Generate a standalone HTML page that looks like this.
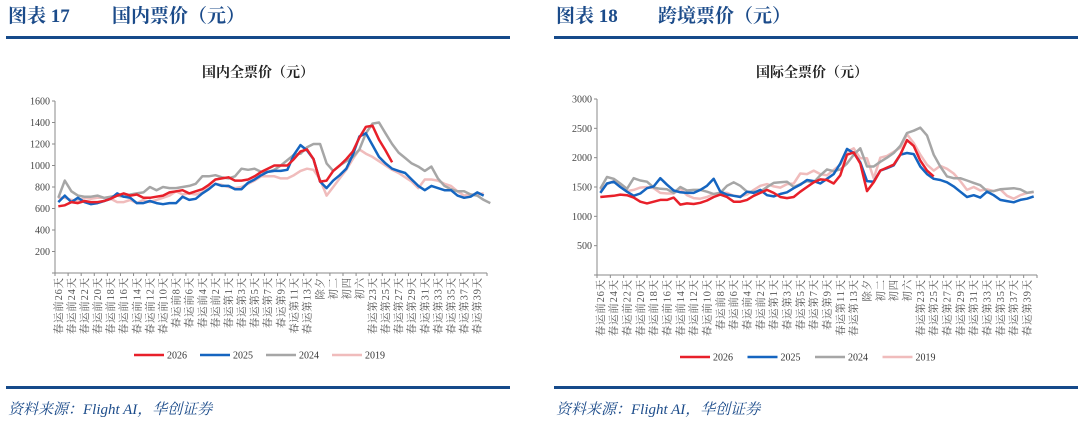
<!DOCTYPE html>
<html><head><meta charset="utf-8"><style>
html,body{margin:0;padding:0;background:#fff;width:1080px;height:421px;overflow:hidden}
svg{display:block}
.ttl{font-family:"Liberation Serif","Noto Serif CJK SC",serif;font-weight:bold;font-size:19px;fill:#1b4b8a}
.ct{font-family:"Liberation Serif","Noto Serif CJK SC",serif;font-weight:bold;font-size:14px;fill:#222}
.tk{font-family:"Liberation Serif","Noto Serif CJK SC",serif;font-size:10px;fill:#444}
.xl{font-family:"Liberation Serif","Noto Serif CJK SC",serif;font-size:10.5px;fill:#555;letter-spacing:0.8px}
.lg{font-family:"Liberation Serif",serif;font-size:10px;fill:#333}
.src{font-family:"Liberation Serif","Noto Serif CJK SC",serif;font-style:italic;font-size:15px;fill:#1b4b8a}
</style></head><body>
<svg id="root" width="1080" height="421" viewBox="0 0 1080 421">
<g>
<text class="ttl" x="8" y="22">图表 17</text>
<text class="ttl" x="112" y="22">国内票价（元）</text>
<rect x="6" y="36" width="504" height="3" fill="#164a8a"/>
<text class="ct" x="258" y="77" text-anchor="middle">国内全票价（元）</text>
</g>
<g>
<text class="ttl" x="556" y="22">图表 18</text>
<text class="ttl" x="658" y="22">跨境票价（元）</text>
<rect x="554" y="36" width="524" height="3" fill="#164a8a"/>
<text class="ct" x="812" y="77" text-anchor="middle">国际全票价（元）</text>
</g>
<rect x="6" y="386" width="504" height="3" fill="#164a8a"/>
<rect x="554" y="386" width="524" height="3" fill="#164a8a"/>
<text class="src" x="8" y="414">资料来源：Flight AI，华创证券</text>
<text class="src" x="556" y="414">资料来源：Flight AI，华创证券</text>
<g id="c17"></g>
<g id="c18"></g>
</svg>
<script>
const categories = ["春运前26天","春运前25天","春运前24天","春运前23天","春运前22天","春运前21天","春运前20天","春运前19天","春运前18天","春运前17天","春运前16天","春运前15天","春运前14天","春运前13天","春运前12天","春运前11天","春运前10天","春运前9天","春运前8天","春运前7天","春运前6天","春运前5天","春运前4天","春运前3天","春运前2天","春运前1天","春运第1天","春运第2天","春运第3天","春运第4天","春运第5天","春运第6天","春运第7天","春运第8天","春运第9天","春运第10天","春运第11天","春运第12天","春运第13天","春运第14天","除夕","初一","初二","初三","初四","初五","初六","春运第22天","春运第23天","春运第24天","春运第25天","春运第26天","春运第27天","春运第28天","春运第29天","春运第30天","春运第31天","春运第32天","春运第33天","春运第34天","春运第35天","春运第36天","春运第37天","春运第38天","春运第39天","春运第40天"];
const seriesNames = ["2026","2025","2024","2019"];
const seriesColors = ["#e8202a","#1565c0","#a6a6a6","#f0bcbc"];
const domesticTicks = [200,400,600,800,1000,1200,1400,1600];
const intlTicks = [500,1000,1500,2000,2500,3000];

const dom2026 = [620,630,660,650,670,660,660,670,690,720,740,720,730,700,700,710,720,750,760,770,740,760,780,820,870,880,890,860,860,870,900,940,970,1000,1000,1000,1060,1130,1150,1060,850,860,950,1000,1060,1130,1260,1360,1370,1240,1140,1030];
const dom2025 = [660,720,660,700,660,640,650,670,690,740,710,700,650,650,670,650,640,650,650,710,680,690,740,780,830,810,810,780,780,840,870,910,940,950,950,960,1100,1190,1140,1060,850,790,860,910,970,1100,1270,1300,1190,1080,1020,970,950,930,870,810,770,810,790,770,770,720,700,710,750,720];
const dom2024 = [700,860,760,720,710,710,720,700,710,720,710,730,740,750,800,770,800,790,790,800,810,830,900,900,910,890,880,900,970,960,970,940,940,960,1000,1050,1100,1110,1170,1200,1200,1020,950,1000,1040,1080,1150,1300,1390,1400,1300,1200,1120,1070,1020,990,950,990,880,810,780,760,760,730,720,680,650];
const dom2019 = [700,700,680,670,700,690,700,700,690,660,660,680,650,680,660,680,700,720,760,730,740,730,750,790,830,820,800,790,800,830,860,900,900,900,880,880,910,950,970,960,870,720,800,880,960,1060,1150,1110,1080,1040,1000,960,930,890,850,790,870,870,860,830,810,760,720,730,730,740];

const int2026 = [1330,1340,1350,1370,1360,1320,1250,1220,1250,1280,1280,1320,1200,1220,1210,1230,1270,1330,1370,1330,1250,1250,1280,1350,1400,1450,1400,1330,1310,1330,1420,1500,1580,1630,1620,1560,1700,2050,2090,1900,1430,1580,1780,1830,1880,2050,2300,2200,1950,1780,1680];
const int2025 = [1400,1560,1590,1500,1420,1350,1390,1480,1510,1650,1540,1440,1410,1400,1400,1450,1520,1640,1420,1370,1350,1330,1420,1400,1450,1360,1340,1380,1410,1480,1540,1620,1600,1560,1640,1720,1900,2150,2080,1920,1600,1590,1780,1820,1870,2050,2080,2060,1850,1720,1640,1620,1580,1510,1420,1330,1360,1320,1420,1360,1280,1260,1240,1280,1300,1340];
const int2024 = [1470,1670,1640,1560,1470,1650,1610,1590,1490,1470,1460,1400,1500,1440,1450,1450,1420,1380,1400,1520,1580,1520,1420,1420,1420,1500,1570,1580,1590,1500,1550,1600,1580,1700,1800,1770,1800,1900,2050,2160,1850,1850,1930,2000,2080,2200,2420,2460,2510,2380,2050,1850,1680,1650,1650,1610,1570,1530,1430,1430,1460,1470,1480,1460,1400,1420];
const int2019 = [1450,1550,1600,1530,1430,1450,1490,1500,1480,1400,1390,1390,1470,1360,1310,1300,1330,1380,1400,1400,1350,1340,1370,1450,1520,1550,1510,1490,1550,1560,1730,1720,1780,1720,1700,1790,1880,2100,2160,1990,1990,1650,2000,2030,2100,2170,2400,2250,2050,1880,1780,1860,1810,1730,1600,1450,1500,1440,1460,1430,1460,1350,1300,1360,1400,1410];

const NS = "http://www.w3.org/2000/svg";
function mk(tag, attrs, parent){const e=document.createElementNS(NS,tag);for(const k in attrs)e.setAttribute(k,attrs[k]);parent.appendChild(e);return e;}

function drawChart(g, cfg, series, ticks){
  const n = categories.length;
  const bw = (cfg.x1-cfg.x0)/n;
  const xs = i => cfg.x0 + (i+0.5)*bw;
  const ys = v => cfg.yb - (v/cfg.ymax)*(cfg.yb-cfg.yt);
  const ya = mk('line',{x1:cfg.x0,y1:cfg.yt,x2:cfg.x0,y2:cfg.yb,stroke:'#8a8a8a','stroke-width':1},g);
  
  
  const xa = mk('line',{x1:cfg.x0,y1:cfg.yb,x2:cfg.x1,y2:cfg.yb,stroke:'#8a8a8a','stroke-width':1},g);
  
  
  [0].concat(ticks).forEach(t=>{
    const y = ys(t);
    const tm = mk('line',{x1:cfg.x0-3,y1:y,x2:cfg.x0,y2:y,stroke:'#8a8a8a','stroke-width':1},g);
    
    
    if(t===0) return;
    const tl = mk('text',{x:cfg.x0-5,y:y+3.5,'text-anchor':'end','class':'tk'},g);
    tl.textContent = t;
    
    
  });
  for(let i=0;i<=n;i+=2){
    const x = cfg.x0 + i*bw;
    const tm = mk('line',{x1:x,y1:cfg.yb,x2:x,y2:cfg.yb+3,stroke:'#8a8a8a','stroke-width':1},g);
    
    
  }
  categories.forEach((c,i)=>{
    if(i%2) return;
    const x = xs(i)+3.5;
    const y = cfg.yb+4;
    const t = mk('text',{x:x,y:y,'text-anchor':'end','class':'xl',transform:`rotate(-90 ${x} ${y})`},g);
    t.textContent = c;
    
    
  });
  [3,2,1,0].forEach(si=>{
    const d = series[si].map((v,i)=>`${i?'L':'M'}${xs(i).toFixed(1)},${ys(v).toFixed(1)}`).join(' ');
    const p = mk('path',{d:d,fill:'none',stroke:seriesColors[si],'stroke-width':2.5,'stroke-linejoin':'round'},g);
    
    
  });
  seriesNames.forEach((nm,si)=>{
    const lx = cfg.lx + si*cfg.lstep;
    const l = mk('line',{x1:lx,y1:cfg.ly,x2:lx+30,y2:cfg.ly,stroke:seriesColors[si],'stroke-width':2.5},g);
    
    
    const t = mk('text',{x:lx+33,y:cfg.ly+3.5,'class':'lg'},g);
    t.textContent = nm;
    
    
  });
}
drawChart(document.getElementById('c17'),{x0:55,x1:487,yt:101,yb:273,ymax:1600,lx:134,lstep:66,ly:355},[dom2026,dom2025,dom2024,dom2019],domesticTicks);
drawChart(document.getElementById('c18'),{x0:597,x1:1037,yt:99,yb:275,ymax:3000,lx:680,lstep:67.5,ly:357},[int2026,int2025,int2024,int2019],intlTicks);
</script>
</body></html>
